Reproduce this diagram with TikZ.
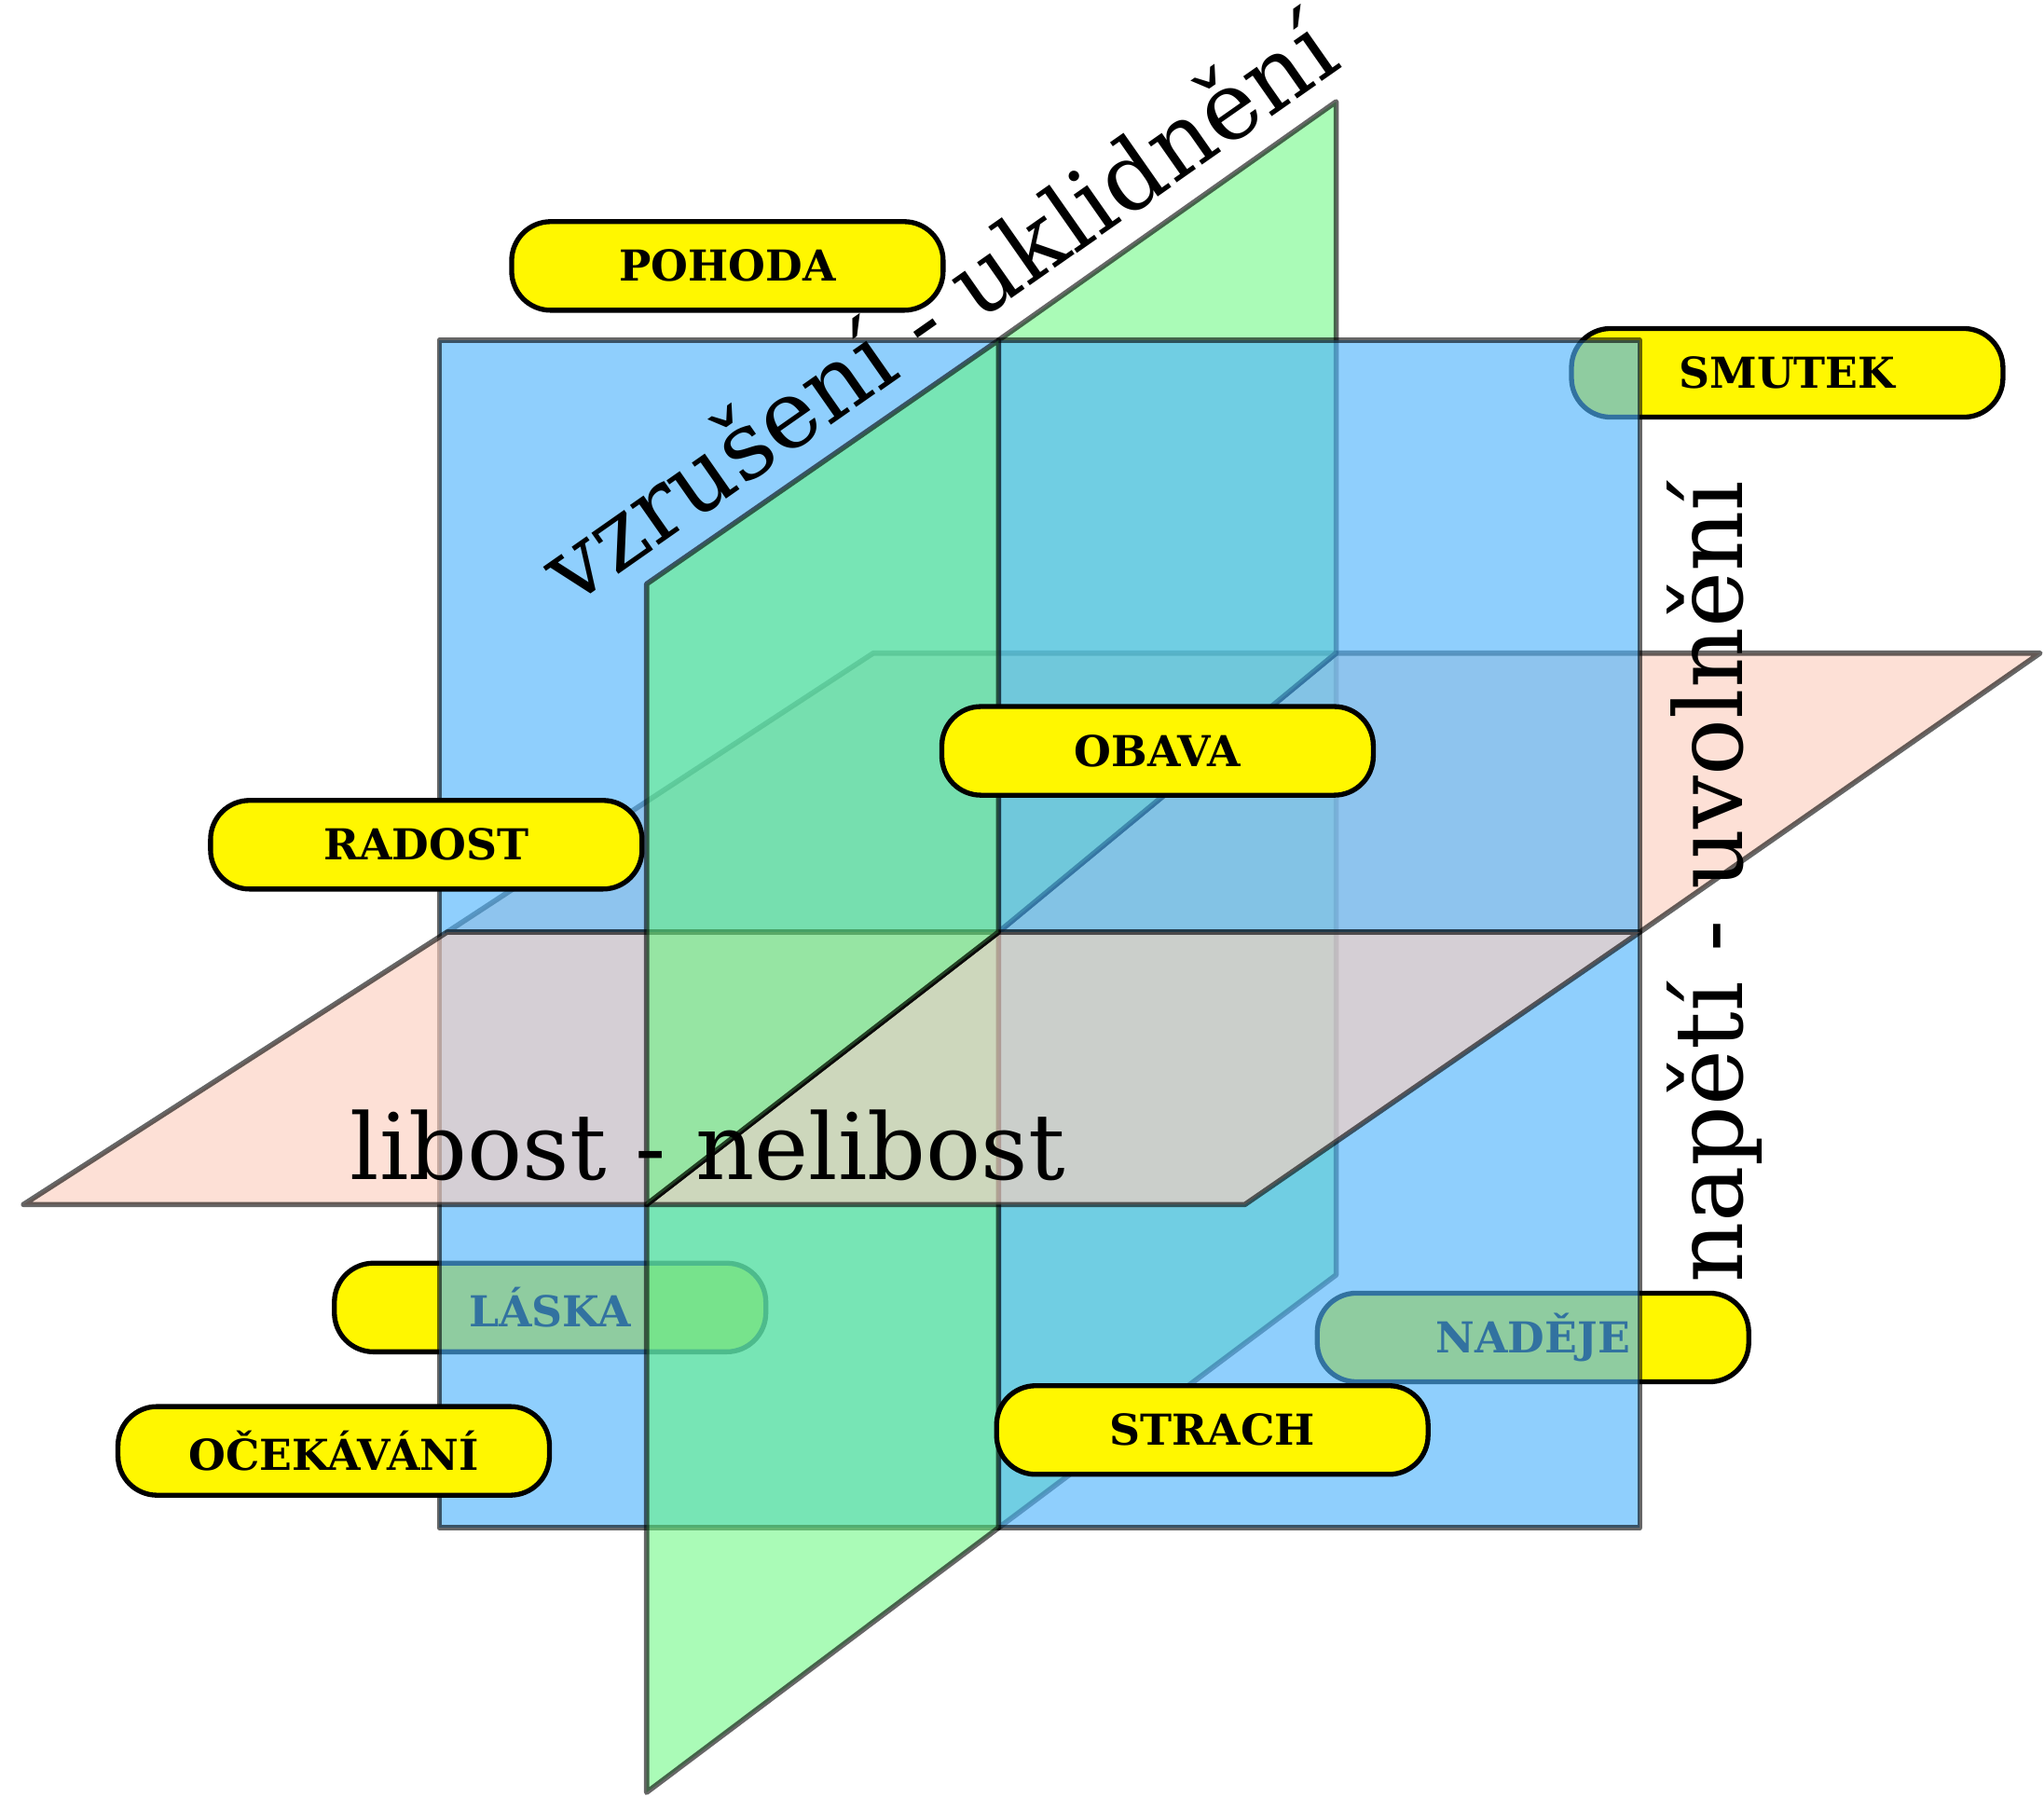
\documentclass[tikz,border=0pt]{standalone}
\usepackage{fontspec}
\setmainfont{DejaVu Serif}
\usepackage{tikz}
\definecolor{planeblue}{RGB}{79,180,252}
\definecolor{planegreen}{RGB}{100,247,124}
\definecolor{planeorange}{RGB}{252,208,192}
\definecolor{tagyellow}{RGB}{255,247,0}

\begin{document}
\begin{tikzpicture}[x=0.1mm,y=-0.1mm,
  plane/.style={draw=black,draw opacity=0.6,line width=0.4mm,line join=round},
  blueplane/.style={plane,fill=planeblue,fill opacity=0.635},
  greenplane/.style={plane,fill=planegreen,fill opacity=0.55},
  orangeplane/.style={plane,fill=planeorange,fill opacity=0.65},
  tag/.style={draw=black,line width=0.38mm,fill=tagyellow,rounded corners=3mm,
    minimum width=33.1mm,minimum height=6.8mm,inner sep=0pt,
    font=\fontsize{9.3}{9.3}\selectfont\bfseries},
  axis/.style={font=\fontsize{20}{20}\selectfont,inner sep=0pt},
  bigaxis/.style={font=\fontsize{20.6}{20.6}\selectfont,inner sep=0pt}]
  \useasboundingbox (0,0) rectangle (1568,1378);

  % corners of the three planes
  \coordinate (c) at (766,715);
  \coordinate (bnw) at (337,261);  \coordinate (bse) at (1258,1172);
  \coordinate (gtm) at (766,261);  \coordinate (gbm) at (766,1172);
  \coordinate (gnt) at (496,448);  \coordinate (gnb) at (496,1375);
  \coordinate (gft) at (1025,78);  \coordinate (gfb) at (1025,978);
  \coordinate (onl) at (18,924);   \coordinate (onr) at (955,924);
  \coordinate (ofl) at (670,501);  \coordinate (ofr) at (1565,501);
  \coordinate (oml) at (343,715);  \coordinate (omr) at (1258,715);
  \coordinate (xn) at (496,924);   \coordinate (xf) at (1025,501);

  % far halves
  \filldraw[greenplane] (c) -- (xf) -- (gfb) -- (gbm) -- cycle;
  \filldraw[orangeplane] (c) -- (xf) -- (ofr) -- (omr) -- cycle;
  \filldraw[orangeplane] (oml) -- (ofl) -- (xf) -- (c) -- cycle;
  \filldraw[greenplane] (gtm) -- (gft) -- (xf) -- (c) -- cycle;

  % tags behind the front plane
  \foreach \n/\x/\y/\t in {smutek/1371/286/SMUTEK,laska/422/1003/LÁSKA,nadeje/1176/1026/NADĚJE}
    \node[tag] (\n) at (\x,\y) {\t};

  % front plane
  \filldraw[blueplane] (bnw) rectangle (bse);

  % near halves
  \filldraw[greenplane] (xn) -- (c) -- (gbm) -- (gnb) -- cycle;
  \filldraw[orangeplane] (xn) -- (c) -- (omr) -- (onr) -- cycle;
  \filldraw[orangeplane] (onl) -- (oml) -- (c) -- (xn) -- cycle;
  \filldraw[greenplane] (gnt) -- (gtm) -- (c) -- (xn) -- cycle;

  % tags in front
  \foreach \n/\x/\y/\t in {pohoda/558/204/POHODA,obava/888/576/OBAVA,radost/327/648/RADOST,
      ocekavani/256/1113/OČEKÁVÁNÍ,strach/930/1097/STRACH}
    \node[tag] (\n) at (\x,\y) {\t};

  % axis names
  \node[axis,anchor=base west] (libost) at (268,905) {libost - nelibost};
  \node[bigaxis,anchor=base west,rotate=90] (napeti) at (1337,985) {napětí - uvolnění};
  \node[bigaxis,anchor=base west,rotate=35] (vzruseni) at (438,466) {vzrušení - uklidnění};
\end{tikzpicture}
\end{document}
